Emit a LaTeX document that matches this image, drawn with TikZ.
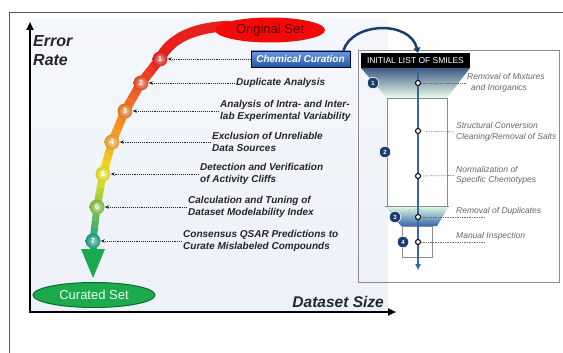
\documentclass[tikz,border=0pt]{standalone}
\usepackage{fontspec}
\setmainfont{Liberation Sans}
\usetikzlibrary{arrows.meta,calc,shapes.geometric}
\definecolor{c1}{HTML}{E8201C}
\definecolor{c2}{HTML}{EE4A22}
\definecolor{c3}{HTML}{F27B22}
\definecolor{c4}{HTML}{F5A623}
\definecolor{c5}{HTML}{F2E41C}
\definecolor{c6}{HTML}{86C443}
\definecolor{c7}{HTML}{17A38A}
\definecolor{agreen}{HTML}{1DAA4F}
\definecolor{dgreen}{HTML}{0D6B2E}
\definecolor{navy}{HTML}{1C3D70}
\definecolor{fblue}{HTML}{3566AD}
\definecolor{bgblue}{HTML}{EDF1F8}
\definecolor{ored}{HTML}{F20A0A}
\definecolor{otext}{HTML}{5C0000}
\definecolor{cctop}{HTML}{6A9BE0}
\definecolor{ccbot}{HTML}{2456A4}
\tikzset{
  bullet/.style={circle, minimum size=15pt, inner sep=0pt, inner color=#1!45!white, outer color=#1!90!black,
    text=white, font=\fontsize{7.5}{8}\selectfont\bfseries},
  rbullet/.style={circle, minimum size=11.5pt, inner sep=0pt, fill=navy, draw=white, line width=0.6pt,
    text=white, font=\fontsize{6}{7}\selectfont\bfseries},
  steplabel/.style={anchor=west, inner sep=1pt, align=left, text=black!85,
    font=\fontsize{10}{12}\selectfont\bfseries\itshape},
  rlabel/.style={anchor=west, inner sep=1pt, align=left, text=black!60,
    font=\fontsize{8.5}{10.5}\selectfont\itshape},
  dotarrow/.style={densely dotted, line width=0.9pt, black!85, -{Stealth[length=4pt,width=3.5pt]}},
  rdots/.style={densely dotted, line width=0.7pt, black!55},
  axisline/.style={line width=2pt, black, -{Triangle[length=8pt,width=7pt]}},
  wdot/.style={circle, minimum size=5pt, inner sep=0pt, fill=white, draw=black, line width=1pt},
  outline/.style={draw=black!45, line width=0.7pt, fill=white}
}
\begin{document}
\begin{tikzpicture}[x=1pt,y=-1pt]
\useasboundingbox (0,0) rectangle (563,353);
% outer frame
\draw[black!65, line width=0.8pt] (9,353) -- (9,12) -- (563,12);
% plot background
\shade[top color=white!40!bgblue, bottom color=bgblue] (30,20) rectangle (388,312);
% axes
\coordinate (yorig) at (30,313);
\coordinate (ytop) at (30,22);
\coordinate (xorig) at (29,312);
\coordinate (xend) at (396,312);
\draw[axisline] (yorig) -- (ytop);
\draw[axisline] (xorig) -- (xend);
\node[anchor=west, align=left, inner sep=0pt, font=\fontsize{16}{18.5}\selectfont\bfseries\itshape, text=black!85] (erate) at (33,50.5) {Error\\Rate};
\node[anchor=east, inner sep=0pt, font=\fontsize{15.5}{18}\selectfont\bfseries\itshape, text=black!85] (dsize) at (384,302) {Dataset Size};
% curve points
\coordinate (p1) at (160,59);
\coordinate (p2) at (141,83);
\coordinate (p3) at (125,111);
\coordinate (p4) at (112,142);
\coordinate (p5) at (103,174);
\coordinate (p6) at (97,207);
\coordinate (p7) at (93,241);
\coordinate (ptop) at (230,26);
% top band
\draw[c1, line width=10.5pt] (p1) .. controls (170,38) and (195,27) .. (ptop);
% graded band
\foreach \a/\b/\ca/\cb/\w in {p1/p2/c1/c2/9.5, p2/p3/c2/c3/9, p3/p4/c3/c4/8.5, p4/p5/c4/c5/8, p5/p6/c5/c6/7.5, p6/p7/c6/c7/7}{
  \foreach \t in {0,0.2,0.4,0.6,0.8}{
    \pgfmathsetmacro\tt{\t+0.2}
    \pgfmathtruncatemacro\p{100-(\t+0.1)*100}
    \draw[line width=\w pt, color=\ca!\p!\cb] ($(\a)!\t!(\b)$) -- ($(\a)!\tt!(\b)$);
  }
}
% arrow to curated set
\coordinate (stemend) at (93,251);
\draw[line width=7pt, color=c7!40!agreen] (p7) -- (stemend);
\fill[agreen] (81,249) -- (105,249) -- (93,278) -- cycle;
% original set ellipse
\node[ellipse, fill=ored, minimum width=110pt, minimum height=25pt, inner sep=0pt,
  font=\fontsize{13}{15}\selectfont, text=otext] (orig) at (270,30) {Original Set};
% curated set ellipse
\node[ellipse, fill=agreen, draw=dgreen, line width=1pt, minimum width=122pt, minimum height=25pt, inner sep=0pt,
  font=\fontsize{13}{15}\selectfont, text=green!8] (cur) at (94,295) {Curated Set};
% bullets
\node[bullet=c1] (b1) at (p1) {1};
\node[bullet=c2] (b2) at (p2) {2};
\node[bullet=c3] (b3) at (p3) {3};
\node[bullet=c4] (b4) at (p4) {4};
\node[bullet=c5] (b5) at (p5) {5};
\node[bullet=c6] (b6) at (p6) {6};
\node[bullet=c7] (b7) at (p7) {7};
% step labels
\node[draw=black!80!blue, line width=0.8pt, top color=cctop, bottom color=ccbot,
  minimum width=99pt, minimum height=16pt, inner sep=0pt, text=white,
  font=\fontsize{10}{12}\selectfont\bfseries\itshape] (cc) at (300.5,59) {Chemical Curation};
\node[steplabel] (l2) at (235,83) {Duplicate Analysis};
\node[steplabel] (l3) at (219,111) {Analysis of Intra- and Inter-\\lab Experimental Variability};
\node[steplabel] (l4) at (211,142) {Exclusion of Unreliable\\Data Sources};
\node[steplabel] (l5) at (199,174) {Detection and Verification\\of Activity Cliffs};
\node[steplabel] (l6) at (187,207) {Calculation and Tuning of\\Dataset Modelability Index};
\node[steplabel] (l7) at (182,241) {Consensus QSAR Predictions to\\Curate Mislabeled Compounds};
\draw[dotarrow] (cc.west) -- (b1.east);
\draw[dotarrow] (l2.west) -- (b2.east);
\draw[dotarrow] (l3.west) -- (b3.east);
\draw[dotarrow] (l4.west) -- (b4.east);
\draw[dotarrow] (l5.west) -- (b5.east);
\draw[dotarrow] (l6.west) -- (b6.east);
\draw[dotarrow] (l7.west) -- (b7.east);
% right panel
\draw[black!45, line width=0.8pt] (358,50) rectangle (559,282);
\node[fill=black, text=white, minimum width=109pt, minimum height=15pt, inner sep=0pt,
  font=\fontsize{8.5}{10}\selectfont] (smiles) at (415.5,60.5) {INITIAL LIST OF SMILES};
\shade[top color=navy!85, bottom color=green!8!white] (361,68) -- (470,68) -- (447,98) -- (387,98) -- cycle;
\draw[outline] (387,98) rectangle (447,206);
\shade[top color=green!12!white, bottom color=fblue] (385,206) -- (449,206) -- (437,226) -- (401,226) -- cycle;
\draw[black!45, line width=0.7pt] (385,206) -- (449,206);
\draw[outline] (402,226) rectangle (432,257);
\coordinate (ftop) at (418,68);
\coordinate (fbot) at (418,270);
\draw[fblue, line width=2pt, -{Triangle[length=6pt,width=5pt]}] (ftop) -- (fbot);
% arc arrow
\draw[navy, line width=2.5pt, -{Triangle[length=5pt,width=7pt]}] ($(cc.north east)+(-7,0)$) .. controls (352,22) and (410,20) .. ($(smiles.north)+(2.5,0)$);
% dots
\node[wdot] (d1) at (418,83) {};
\node[wdot] (d2) at (418,131) {};
\node[wdot] (d3) at (418,176) {};
\node[wdot] (d4) at (418,217) {};
\node[wdot] (d5) at (418,242) {};
% right bullets
\node[rbullet] (rb1) at (373,83) {1};
\node[rbullet] (rb2) at (385,152) {2};
\node[rbullet] (rb3) at (395,217) {3};
\node[rbullet] (rb4) at (403,242) {4};
% right labels
\node[rlabel] (r1) at (466,83) {Removal of Mixtures\\\hspace*{4pt}and Inorganics};
\node[rlabel] (r2) at (455,132) {Structural Conversion\\Cleaning/Removal of Salts};
\node[rlabel] (r3) at (455,175.5) {Normalization of\\Specific Chemotypes};
\node[rlabel] (r4) at (455,211) {Removal of Duplicates};
\node[rlabel] (r5) at (455,236.5) {Manual Inspection};
\coordinate (e4) at (485,217);
\coordinate (e5) at (485,242);
\draw[rdots] (d1.east) -- (r1.west);
\draw[rdots] (d2.east) -- (r2.west);
\draw[rdots] (d3.east) -- (r3.west);
\draw[rdots] (d4.east) -- (e4);
\draw[rdots] (d5.east) -- (e5);
\end{tikzpicture}
\end{document}
